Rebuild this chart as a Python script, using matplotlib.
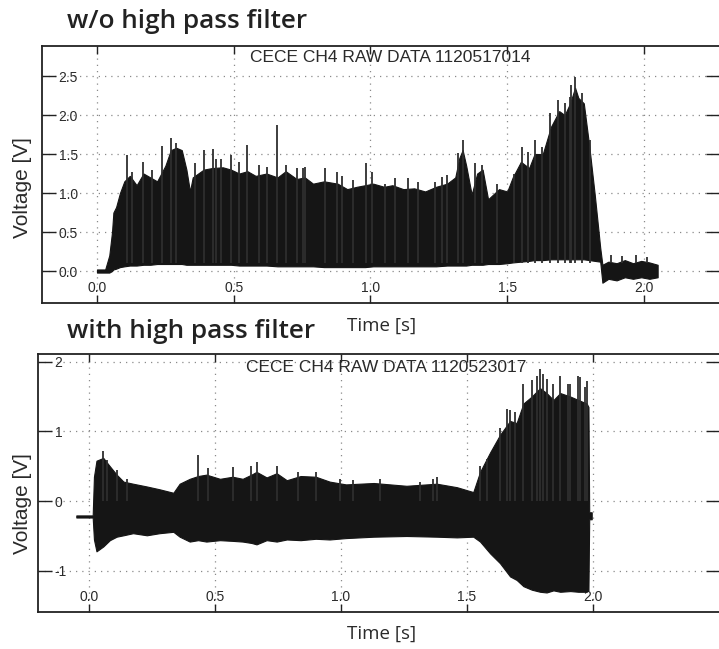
import numpy as np
import matplotlib
matplotlib.use("Agg")
import matplotlib.pyplot as plt

plt.rcParams['axes.unicode_minus'] = False

# ---------------- data: top panel (w/o high pass filter), shot 1120517014
t_top = [0.00, 0.03, 0.045, 0.055, 0.06, 0.07, 0.084, 0.10, 0.12, 0.145, 0.17, 0.195,
         0.22, 0.25, 0.27, 0.29, 0.31, 0.327, 0.34, 0.35, 0.37, 0.39, 0.42, 0.46, 0.49,
         0.52, 0.55, 0.58, 0.62, 0.66, 0.69, 0.73, 0.76, 0.79, 0.83, 0.88, 0.915, 0.95,
         0.98, 1.01, 1.05, 1.08, 1.12, 1.16, 1.20, 1.24, 1.28, 1.31, 1.325, 1.337, 1.35,
         1.37, 1.39, 1.41, 1.43, 1.47, 1.50, 1.52, 1.55, 1.58, 1.60, 1.63, 1.66, 1.69,
         1.71, 1.73, 1.748, 1.76, 1.78, 1.80, 1.82, 1.84, 1.848, 1.87, 1.90, 1.93, 1.96,
         1.99, 2.02, 2.05]
up_top = [0.02, 0.02, 0.20, 0.50, 0.75, 0.82, 1.00, 1.15, 1.22, 1.10, 1.25, 1.20,
          1.15, 1.35, 1.55, 1.58, 1.55, 1.30, 1.02, 1.20, 1.25, 1.30, 1.32, 1.33, 1.30,
          1.25, 1.28, 1.22, 1.25, 1.20, 1.28, 1.18, 1.20, 1.12, 1.15, 1.12, 1.05, 1.08,
          1.10, 1.12, 1.08, 1.10, 1.05, 1.06, 1.02, 1.08, 1.12, 1.20, 1.45, 1.55, 1.35,
          0.98, 1.25, 1.30, 0.92, 1.05, 1.02, 1.20, 1.40, 1.32, 1.50, 1.50, 1.85, 2.05,
          2.00, 2.15, 2.35, 2.22, 2.15, 1.60, 0.98, 0.30, 0.08, 0.12, 0.10, 0.14, 0.10,
          0.13, 0.11, 0.08]
lo_top = [-0.02, -0.02, -0.02, 0.00, 0.02, 0.03, 0.05, 0.06, 0.07, 0.07, 0.08, 0.08,
          0.09, 0.09, 0.09, 0.09, 0.09, 0.08, 0.08, 0.08, 0.08, 0.08, 0.08, 0.08, 0.08,
          0.07, 0.07, 0.07, 0.07, 0.06, 0.06, 0.06, 0.06, 0.06, 0.05, 0.05, 0.05, 0.05,
          0.05, 0.06, 0.06, 0.06, 0.06, 0.06, 0.06, 0.06, 0.07, 0.07, 0.07, 0.07, 0.07,
          0.08, 0.08, 0.08, 0.09, 0.09, 0.10, 0.11, 0.12, 0.13, 0.14, 0.14, 0.15, 0.15,
          0.15, 0.15, 0.15, 0.15, 0.15, 0.14, 0.13, 0.12, -0.15, -0.10, -0.12, -0.08, -0.10,
          -0.08, -0.10, -0.08]
spike_t_top = [0.108, 0.127, 0.168, 0.20, 0.239, 0.27, 0.29, 0.358, 0.39, 0.426, 0.437,
               0.455, 0.49, 0.52, 0.55, 0.594, 0.62, 0.657, 0.69, 0.73, 0.755, 0.76,
               0.834, 0.876, 0.895, 0.937, 0.983, 1.004, 1.053, 1.09, 1.138, 1.175,
               1.236, 1.26, 1.279, 1.32, 1.337, 1.382, 1.406, 1.461, 1.523, 1.553,
               1.577, 1.60, 1.626, 1.656, 1.687, 1.711, 1.73, 1.735, 1.748, 1.772,
               1.803, 1.88, 1.92, 1.97, 2.01]
spike_v_top = [1.49, 1.27, 1.40, 1.30, 1.60, 1.70, 1.64, 1.38, 1.55, 1.57, 1.44,
               1.44, 1.49, 1.40, 1.61, 1.36, 1.34, 1.87, 1.36, 1.32, 1.32, 1.34,
               1.32, 1.27, 1.22, 1.17, 1.38, 1.27, 1.12, 1.19, 1.19, 1.14,
               1.14, 1.21, 1.23, 1.51, 1.68, 1.38, 1.36, 1.12, 1.25, 1.59,
               1.53, 1.68, 1.59, 2.02, 2.19, 2.15, 2.23, 2.38, 2.49, 2.28,
               1.68, 0.20, 0.19, 0.20, 0.18]

# ---------------- data: bottom panel (with high pass filter), shot 1120523017
t_bot = [-0.05, 0.015, 0.02, 0.03, 0.057, 0.083, 0.11, 0.137, 0.175, 0.23, 0.28, 0.335,
         0.36, 0.40, 0.433, 0.466, 0.52, 0.57, 0.61, 0.645, 0.665, 0.705, 0.745, 0.785,
         0.84, 0.90, 0.955, 1.02, 1.13, 1.26, 1.38, 1.46, 1.525, 1.552, 1.592, 1.631,
         1.671, 1.697, 1.724, 1.757, 1.79, 1.816, 1.843, 1.87, 1.91, 1.942, 1.975, 1.982,
         1.985, 1.995]
up_bot = [-0.205, -0.205, 0.35, 0.58, 0.62, 0.50, 0.38, 0.28, 0.25, 0.21, 0.17, 0.12,
          0.25, 0.32, 0.36, 0.38, 0.32, 0.35, 0.32, 0.38, 0.42, 0.34, 0.40, 0.30,
          0.36, 0.35, 0.28, 0.24, 0.26, 0.22, 0.25, 0.20, 0.13, 0.42, 0.70, 0.95,
          1.15, 1.12, 1.40, 1.50, 1.62, 1.55, 1.45, 1.55, 1.50, 1.45, 1.40, 1.35,
          -0.16, -0.16]
lo_bot = [-0.235, -0.235, -0.55, -0.72, -0.65, -0.56, -0.51, -0.49, -0.46, -0.49, -0.46, -0.44,
          -0.51, -0.58, -0.56, -0.58, -0.56, -0.57, -0.58, -0.60, -0.62, -0.56, -0.58, -0.55,
          -0.56, -0.54, -0.55, -0.53, -0.51, -0.50, -0.51, -0.52, -0.51, -0.58, -0.75, -0.89,
          -1.08, -1.13, -1.22, -1.27, -1.30, -1.31, -1.28, -1.30, -1.29, -1.30, -1.30, -1.28,
          -0.26, -0.26]
spike_t_bot = [0.057, 0.07, 0.11, 0.15, 0.433, 0.473, 0.572, 0.645, 0.665, 0.745, 0.83,
               0.903, 0.996, 1.049, 1.155, 1.313, 1.366, 1.38, 1.552, 1.578, 1.631,
               1.657, 1.671, 1.69, 1.724, 1.757, 1.776, 1.79, 1.803, 1.816, 1.843,
               1.87, 1.902, 1.91, 1.942, 1.949, 1.968, 1.975]
spike_v_bot = [0.72, 0.59, 0.44, 0.32, 0.66, 0.47, 0.49, 0.51, 0.56, 0.51, 0.42,
               0.42, 0.32, 0.30, 0.32, 0.28, 0.32, 0.35, 0.50, 0.61, 1.05,
               1.32, 1.30, 1.28, 1.68, 1.73, 1.80, 1.89, 1.82, 1.75, 1.68,
               1.80, 1.68, 1.68, 1.80, 1.78, 1.63, 1.72]

xticks = [0.0, 0.5, 1.0, 1.5, 2.0]
xticklabels = ["0.0", "0.5", "1.0", "1.5", "2.0"]
yticks_top = [0.0, 0.5, 1.0, 1.5, 2.0, 2.5]
yticklabels_top = ["0.0", "0.5", "1.0", "1.5", "2.0", "2.5"]
yticks_bot = [-1, 0, 1, 2]
yticklabels_bot = ["-1", "0", "1", "2"]

W, H = 719, 649
fig = plt.figure(figsize=(W / 100, H / 100), dpi=100)

ax1 = fig.add_axes([42 / W, 1 - 303 / H, (720 - 42) / W, (303 - 46) / H])
ax2 = fig.add_axes([38 / W, 1 - 612 / H, (720 - 38) / W, (612 - 354) / H])

SIG = '#151515'
SPK = '#2e2e2e'
TXT = '#2a2a2a'


def style(ax, xlim, ylim, yt, ytl, xpad):
    ax.set_xticks(xticks)
    ax.set_xticklabels(xticklabels)
    ax.set_yticks(yt)
    ax.set_yticklabels(ytl)
    ax.set_xlim(*xlim)
    ax.set_ylim(*ylim)
    ax.grid(True, linestyle=(0, (1, 4)), color='#8a8a8a', linewidth=0.9)
    ax.set_axisbelow(True)
    for s in ['left', 'top', 'bottom', 'right']:
        ax.spines[s].set_linewidth(1.3)
        ax.spines[s].set_color('#222222')
    ax.tick_params(axis='x', direction='in', length=6, width=1.0, top=True,
                   bottom=True, pad=xpad, labelsize=10, labelcolor=TXT, color='#222222')
    ax.tick_params(axis='y', direction='in', length=10, width=1.0, left=True,
                   right=True, pad=-12, labelsize=10, labelcolor=TXT, color='#222222')
    for lbl in ax.get_yticklabels():
        lbl.set_horizontalalignment('left')
        lbl.set_family('Liberation Sans')
    for lbl in ax.get_xticklabels():
        lbl.set_family('Liberation Sans')


ax1.fill_between(t_top, lo_top, up_top, color=SIG, linewidth=0.8, edgecolor=SIG, zorder=3)
ax1.vlines(spike_t_top, 0.1, spike_v_top, color=SPK, linewidth=1.3, zorder=3)
style(ax1, (-0.201, 2.278), (-0.41, 2.885), yticks_top, yticklabels_top, -16)

ax2.fill_between(t_bot, lo_bot, up_bot, color=SIG, linewidth=0.8, edgecolor=SIG, zorder=3)
ax2.vlines(spike_t_bot, 0.0, spike_v_bot, color=SPK, linewidth=1.3, zorder=3)
style(ax2, (-0.202, 2.504), (-1.59, 2.11), yticks_bot, yticklabels_bot, -15.5)

# titles inside plots
fig.text(390 / W, 1 - 57 / H, "CECE CH4 RAW DATA 1120517014", ha='center', va='center',
         fontsize=12.5, family='Liberation Sans', color=TXT)
fig.text(386 / W, 1 - 367 / H, "CECE CH4 RAW DATA 1120523017", ha='center', va='center',
         fontsize=12.5, family='Liberation Sans', color=TXT)

# y labels
fig.text(23 / W, 1 - 188 / H, "Voltage [V]", rotation=90, ha='center', va='center',
         fontsize=15, family='Liberation Sans', color=TXT)
fig.text(23 / W, 1 - 504 / H, "Voltage [V]", rotation=90, ha='center', va='center',
         fontsize=15, family='Liberation Sans', color=TXT)

# x labels
fig.text(382 / W, 1 - 326 / H, "Time [s]", ha='center', va='center',
         fontsize=13.5, family='Open Sans', color=TXT)
fig.text(382 / W, 1 - 634 / H, "Time [s]", ha='center', va='center',
         fontsize=13.5, family='Open Sans', color=TXT)

# panel headings
fig.text(67 / W, 1 - 22 / H, "w/o high pass filter", ha='left', va='center',
         fontsize=18.8, family='Open Sans', fontweight='semibold', color='#222222')
fig.text(67 / W, 1 - 331 / H, "with high pass filter", ha='left', va='center',
         fontsize=18.8, family='Open Sans', fontweight='semibold', color='#222222')

fig.savefig("out.png", dpi=100)
